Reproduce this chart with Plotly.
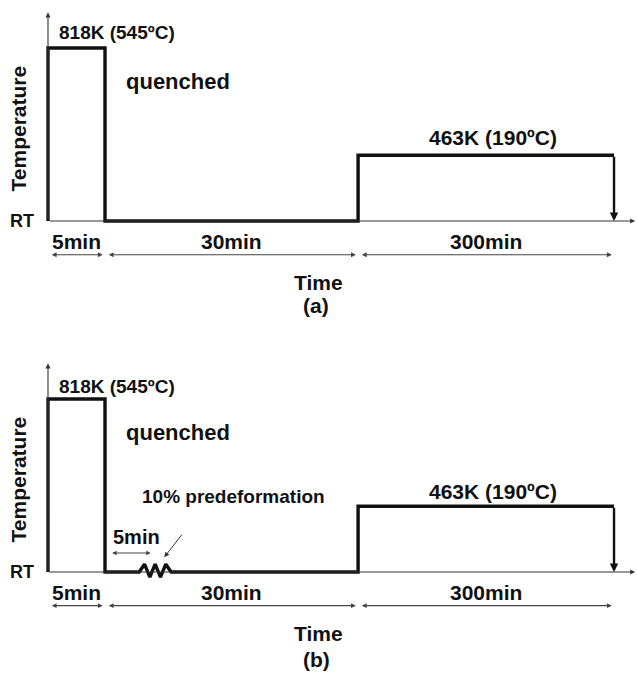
import numpy as np
import plotly.graph_objects as go

# ---------------- data ----------------
stage_labels = ["5min", "30min", "300min"]           # labelled durations
stage_minutes = [5, 30, 300]                          # real durations (min)
stage_display_width = [1.0, 4.44, 4.49]               # schematic (not-to-scale) widths
level_rt = 0.0                                        # schematic temperature levels
level_age = 0.38
level_sol = 1.0
temp_labels = ["818K (545ºC)", "463K (190ºC)"]
predeform_label = "10% predeformation"
predeform_delay_label = "5min"
predeform_span = [1.6, 2.16]                          # schematic position of the deformation
predeform_teeth = 3
panel_labels = ["(a)", "(b)"]
axis_titles = ["Time", "Temperature", "RT"]

# ---------------- derived ----------------
bounds = np.concatenate([[0.0], np.cumsum(stage_display_width)])
b0, b1, b2, b3 = bounds
FONT = "Liberation Sans, Arial, sans-serif"
INK = "#111111"

fig = go.Figure()

yranges = {1: [-0.6676, 1.2775], 2: [-0.584, 1.361]}
ydomains = {1: [0.5, 1.0], 2: [0.0, 0.5]}
xrange_ = [-0.842, 10.333]

annotations = []


def txt(text, x, y, xr, yr, size, xanchor="center", yanchor="middle", angle=0):
    annotations.append(dict(text="<b>%s</b>" % text, x=x, y=y, xref=xr, yref=yr,
                            showarrow=False, xanchor=xanchor, yanchor=yanchor,
                            textangle=angle,
                            font=dict(family=FONT, size=size, color=INK)))


def arrow(x0, y0, x1, y1, xr, yr, width=1.0, color="#333333", head=2, size=0.8,
          both=False):
    annotations.append(dict(text="", x=x1, y=y1, ax=x0, ay=y0, xref=xr, yref=yr,
                            axref=xr, ayref=yr, showarrow=True, arrowhead=head,
                            startarrowhead=head, arrowsize=size, startarrowsize=size,
                            arrowwidth=width, arrowcolor=color, standoff=0,
                            startstandoff=0,
                            arrowside="end+start" if both else "end"))


for p in (1, 2):
    xr = "x" if p == 1 else "x2"
    yr = "y" if p == 1 else "y2"

    # thermal profile
    px = [b0, b0, b1, b1]
    py = [level_rt, level_sol, level_sol, level_rt]
    if p == 2:
        n = 2 * predeform_teeth + 1
        zx = np.linspace(predeform_span[0], predeform_span[1], n)
        amp = np.array([0.0] + [0.045 if i % 2 else -0.03 for i in range(1, n - 1)] + [0.0])
        px += list(zx)
        py += list(level_rt + amp)
    px += [b2, b2, b3]
    py += [level_rt, level_age, level_age]
    fig.add_trace(go.Scatter(x=px, y=py, mode="lines", xaxis=xr, yaxis=yr,
                             line=dict(color=INK, width=3.4), showlegend=False,
                             hoverinfo="skip"))

    # axes with arrows
    arrow(b0, level_rt, b0, 1.205, xr, yr, width=1.1, color="#333333", head=2, size=0.9)
    arrow(b0, level_rt, 10.3, level_rt, xr, yr, width=1.1, color="#333333", head=2, size=0.9)
    # cooling arrow at the end
    arrow(b3, level_age, b3, level_rt, xr, yr, width=2.4, color=INK, head=2, size=0.7)

    # dimension arrows + stage labels
    ydim = -0.195
    gap = 0.04
    for i, lab in enumerate(stage_labels):
        arrow(bounds[i] + gap, ydim, bounds[i + 1] - gap, ydim, xr, yr, width=1.2,
              color="#444444", head=2, size=0.8, both=True)
        txt(lab, (bounds[i] + bounds[i + 1]) / 2, -0.116, xr, yr, 21)

    # texts
    txt(temp_labels[0], b0 + 0.16, level_sol + (0.087 if p == 1 else 0.07), xr, yr, 19,
        xanchor="left")
    txt("quenched", b1 + 0.33, 0.806, xr, yr, 22, xanchor="left")
    txt(temp_labels[1], (b2 + b3) / 2 + 0.12, level_age + (0.1 if p == 1 else 0.085), xr, yr, 21)
    txt(axis_titles[1], -0.526, 0.535, xr, yr, 21, angle=-90)
    txt(axis_titles[2], -0.456, level_rt, xr, yr, 18)
    txt(axis_titles[0], 4.74, -0.355, xr, yr, 21)
    txt(panel_labels[p - 1], 4.71, -0.49 if p == 1 else -0.505, xr, yr, 21)

    if p == 2:
        txt(predeform_label, 1.61, 0.434, xr, yr, 19, xanchor="left")
        txt(predeform_delay_label, b1 + 0.1, 0.205, xr, yr, 20, xanchor="left")
        arrow(b1 + 0.1, 0.11, predeform_span[0] + 0.2, 0.11, xr, yr, width=1.1,
              color="#444444", head=2, size=0.8, both=True)
        arrow(2.37, 0.225, 2.04, 0.085, xr, yr, width=1.0, color="#333333", head=2, size=1.0)

ax_common = dict(visible=False, showgrid=False, zeroline=False, fixedrange=True)
fig.update_layout(
    width=637, height=673,
    margin=dict(l=0, r=0, t=0, b=0),
    paper_bgcolor="white", plot_bgcolor="white",
    xaxis=dict(range=xrange_, domain=[0, 1], anchor="y", **ax_common),
    yaxis=dict(range=yranges[1], domain=ydomains[1], anchor="x", **ax_common),
    xaxis2=dict(range=xrange_, domain=[0, 1], anchor="y2", **ax_common),
    yaxis2=dict(range=yranges[2], domain=ydomains[2], anchor="x2", **ax_common),
    annotations=annotations,
    showlegend=False,
)

fig.write_html("out.html", config={"displayModeBar": False})
